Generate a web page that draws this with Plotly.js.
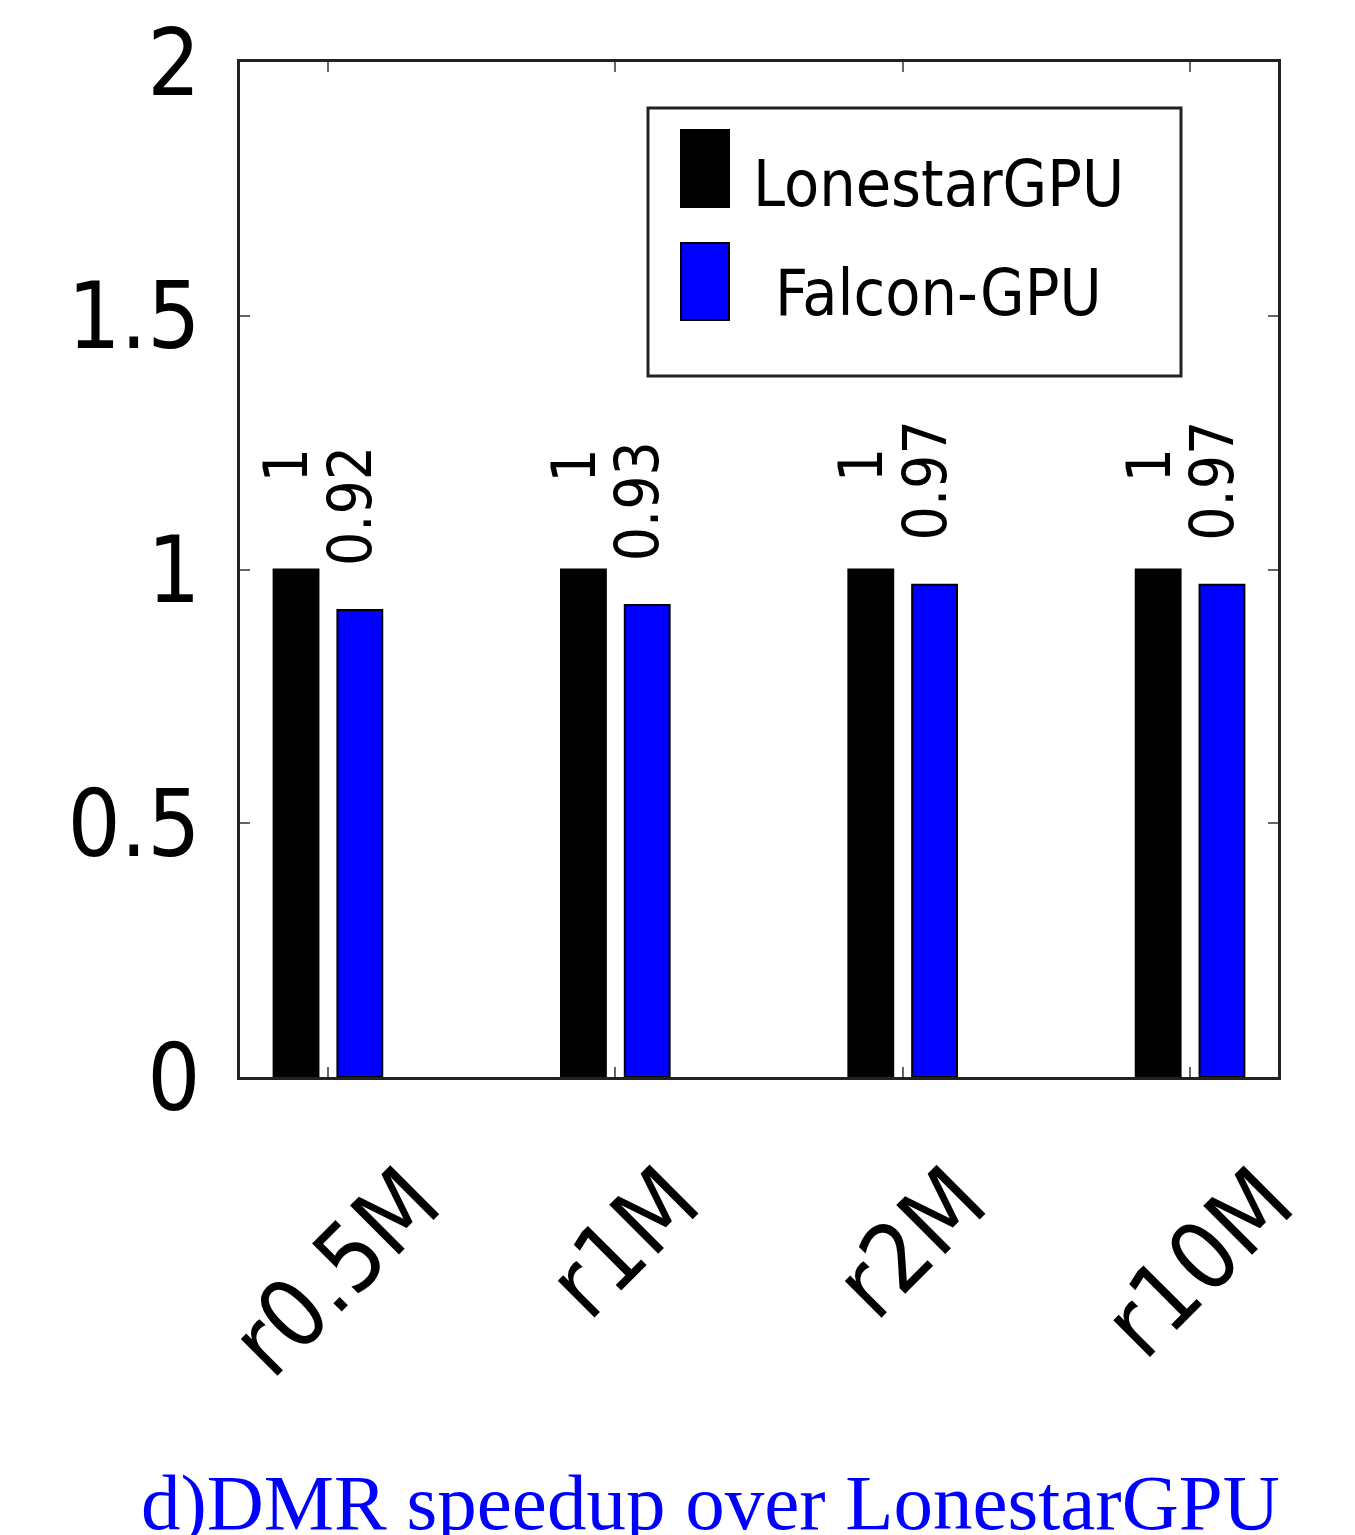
<!DOCTYPE html>
<html>
<head>
<meta charset="utf-8">
<script src="https://cdn.plot.ly/plotly-3.0.1.min.js"></script>
<style>html,body{margin:0;padding:0;background:#fff;}#chart{width:1355px;height:1535px;}</style>
</head>
<body>
<div id="chart"></div>
<script>
// ---- data ----
const categories = ["r0.5M", "r1M", "r2M", "r10M"];
const seriesNames = ["LonestarGPU", "Falcon-GPU"];
const lonestarGPU = [1, 1, 1, 1];
const falconGPU = [0.92, 0.93, 0.97, 0.97];
const lonestarLabels = ["1", "1", "1", "1"];
const falconLabels = ["0.92", "0.93", "0.97", "0.97"];
const yTickVals = [0, 0.5, 1, 1.5, 2];
const yTickText = ["0", "0.5", "1", "1.5", "2"];
const titleText = "d)DMR speedup over LonestarGPU";

// ---- layout helpers (pixel -> paper) ----
const W = 1355, H = 1535;
const M = {l: 240, r: 77, t: 62, b: 458};
const PW = W - M.l - M.r, PH = H - M.t - M.b;
const px = x => (x - M.l) / PW;
const py = y => (H - M.b - y) / PH;

const SANS = "'DejaVu Sans Condensed', 'DejaVu Sans', sans-serif";
const colors = ["#000000", "#0000ff"];

const traces = [
  {type: "bar", name: seriesNames[0], x: categories, y: lonestarGPU,
   marker: {color: colors[0], line: {color: "#000", width: 2}}, showlegend: false, hoverinfo: "x+y"},
  {type: "bar", name: seriesNames[1], x: categories, y: falconGPU,
   marker: {color: colors[1], line: {color: "#000", width: 2}}, showlegend: false, hoverinfo: "x+y"}
];

const annotations = [];
// value labels
const valueSets = [[lonestarGPU, lonestarLabels, -42], [falconGPU, falconLabels, 22]];
valueSets.forEach(([vals, labels, dx]) => {
  categories.forEach((c, i) => {
    annotations.push({x: c, y: vals[i], xref: "x", yref: "y", text: labels[i],
      showarrow: false, textangle: -90, xanchor: "center", yanchor: "middle",
      xshift: dx, yshift: 104, font: {family: SANS, size: 60, color: "#000"}});
  });
});
// x category labels
categories.forEach(c => {
  annotations.push({x: c, y: 0, xref: "x", yref: "y", text: c, showarrow: false,
    textangle: -45, xanchor: "center", yanchor: "top", xshift: 8, yshift: -66,
    font: {family: SANS, size: 95, color: "#000"}});
});
// legend texts
const legendTextY = [184, 293];
seriesNames.forEach((n, i) => {
  annotations.push({x: px(938), y: py(legendTextY[i]), xref: "paper", yref: "paper", text: n,
    showarrow: false, xanchor: "center", yanchor: "middle",
    font: {family: SANS, size: 64, color: "#000"}});
});
// title
annotations.push({x: px(710), y: py(1502), xref: "paper", yref: "paper", text: titleText,
  showarrow: false, xanchor: "center", yanchor: "middle",
  font: {family: "'Liberation Serif', 'Times New Roman', serif", size: 79, color: "#0000ff"}});

const shapes = [
  {type: "rect", xref: "paper", yref: "paper", x0: px(648), x1: px(1181), y0: py(376), y1: py(108),
   line: {color: "#222", width: 3}, fillcolor: "#fff", layer: "above"},
  {type: "rect", xref: "paper", yref: "paper", x0: px(681), x1: px(729), y0: py(207), y1: py(130),
   line: {color: "#000", width: 2}, fillcolor: colors[0], layer: "above"},
  {type: "rect", xref: "paper", yref: "paper", x0: px(681), x1: px(729), y0: py(320), y1: py(243),
   line: {color: "#000", width: 2}, fillcolor: colors[1], layer: "above"}
];

const layout = {
  width: W, height: H,
  margin: M,
  paper_bgcolor: "#fff", plot_bgcolor: "#fff",
  barmode: "group", bargap: 0.556, bargroupgap: 0.297,
  showlegend: false,
  xaxis: {type: "category", range: [-0.306, 3.306], showline: true, mirror: "ticks",
    linecolor: "#222", linewidth: 3, ticks: "inside", ticklen: 10, tickwidth: 2, tickcolor: "#666",
    showticklabels: false, showgrid: false, zeroline: false, fixedrange: true},
  yaxis: {range: [0, 2], tickvals: yTickVals, ticktext: yTickText, showline: true, mirror: "ticks",
    linecolor: "#222", linewidth: 3, ticks: "inside", ticklen: 10, tickwidth: 2, tickcolor: "#666",
    ticklabelstandoff: 18, tickfont: {family: SANS, size: 93, color: "#000"},
    showgrid: false, zeroline: false, fixedrange: true},
  annotations: annotations,
  shapes: shapes
};

Plotly.newPlot("chart", traces, layout, {displayModeBar: false, staticPlot: true});
</script>
</body>
</html>
